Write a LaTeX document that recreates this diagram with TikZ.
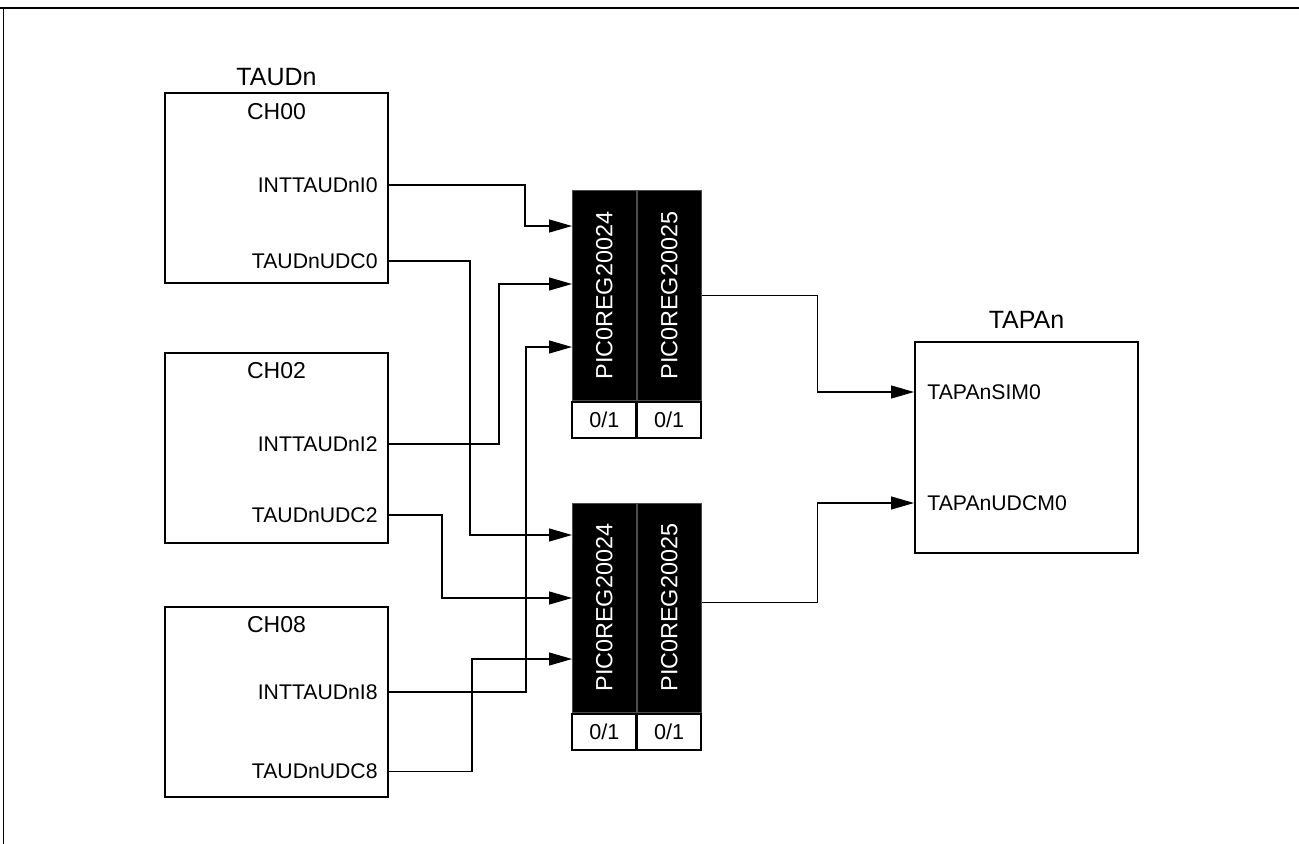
\documentclass[tikz,border=0pt]{standalone}
\usepackage{fontspec}
\setmainfont{Liberation Sans}
\usepackage{graphicx}
\usetikzlibrary{arrows.meta, positioning}

\begin{document}
\begin{tikzpicture}[
    x=0.5pt, y=-0.5pt,
    >={Triangle[length=11.5pt, width=6.5pt]},
    chbox/.style={draw, line width=1pt, minimum width=111.5pt,
                  minimum height=95pt, inner sep=0pt},
    blktitle/.style={font=\fontsize{12.5}{14}\selectfont, inner sep=0pt},
    chlbl/.style={font=\fontsize{11.5}{13}\selectfont, inner sep=0pt},
    portlbl/.style={font=\fontsize{10.6}{12}\selectfont, inner sep=0pt},
    regcol/.style={draw=black!70, fill=black, text=white, line width=0.4pt,
                   minimum width=32pt, minimum height=104.75pt, inner sep=0pt,
                   font=\fontsize{11.7}{13}\selectfont},
    bitcell/.style={draw, fill=white, line width=1pt, minimum width=32pt,
                    minimum height=18pt, inner sep=0pt,
                    font=\fontsize{10.8}{12}\selectfont},
    sig/.style={draw, line width=0.6pt, ->}
]
  \useasboundingbox (0,0) rectangle (1299,844);

  % Frame
  \draw[line width=1pt] (0,8) -- (1299,8);
  \draw[line width=0.5pt] (3,8) -- (3,844);

  % TAUDn channels
  \node[chbox] (ch00) at (276.5,188.5) {};
  \node[chbox] (ch02) at (276.5,448) {};
  \node[chbox] (ch08) at (276.5,701.7) {};
  \node[blktitle] (taud) at ([yshift=7.75pt]ch00.north) {TAUDn};
  \foreach \ch/\txt in {ch00/CH00, ch02/CH02, ch08/CH08}
    \node[chlbl] (\ch t) at ([yshift=-9.5pt]\ch.north) {\txt};

  \node[portlbl, anchor=east] (i0) at (378,185) {INTTAUDnI0};
  \node[portlbl, anchor=east] (u0) at (378,261) {TAUDnUDC0};
  \node[portlbl, anchor=east] (i2) at (378,444) {INTTAUDnI2};
  \node[portlbl, anchor=east] (u2) at (378,515) {TAUDnUDC2};
  \node[portlbl, anchor=east] (i8) at (378,692) {INTTAUDnI8};
  \node[portlbl, anchor=east] (u8) at (378,771.5) {TAUDnUDC8};

  % PIC registers
  \foreach \blk/\top in {ra/190.5, rb/502.5} {
    \node[regcol, anchor=north west] (\blk24) at (572,\top) {\rotatebox{90}{PIC0REG20024}};
    \node[regcol, anchor=north west] (\blk25) at (\blk24.north east) {\rotatebox{90}{PIC0REG20025}};
    \node[bitcell, anchor=north] (\blk24b) at (\blk24.south) {0/1};
    \node[bitcell, anchor=north] (\blk25b) at (\blk25.south) {0/1};
  }
  \coordinate (in1) at (572,226);
  \coordinate (in2) at (572,284);
  \coordinate (in3) at (572,347);
  \coordinate (in4) at (572,535);
  \coordinate (in5) at (572,598);
  \coordinate (in6) at (572,659);

  % TAPAn
  \node[chbox, minimum height=105.5pt] (tapa) at (1026.5,447.5) {};
  \node[blktitle] (tapat) at ([yshift=10.5pt]tapa.north) {TAPAn};
  \node[portlbl, anchor=west] (sim) at (927,392) {TAPAnSIM0};
  \node[portlbl, anchor=west] (udcm) at (927,503) {TAPAnUDCM0};

  % Inputs to the registers
  \draw[sig] (i0 -| ch00.east) -- ++(136,0) |- (in1);
  \draw[sig] (u0 -| ch00.east) -- ++(81,0) |- (in4);
  \draw[sig] (i2 -| ch02.east) -- ++(110,0) |- (in2);
  \draw[sig] (u2 -| ch02.east) -- ++(53,0) |- (in5);
  \draw[sig] (i8 -| ch08.east) -- ++(137,0) |- (in3);
  \draw[sig] (u8 -| ch08.east) -- ++(83,0) |- (in6);

  % Outputs to TAPAn
  \draw[sig] (ra25.east) -- ++(116,0) |- (sim -| tapa.west);
  \draw[sig] ([yshift=2.5pt]rb25.east) -- ++(116,0) |- (udcm -| tapa.west);
\end{tikzpicture}
\end{document}
